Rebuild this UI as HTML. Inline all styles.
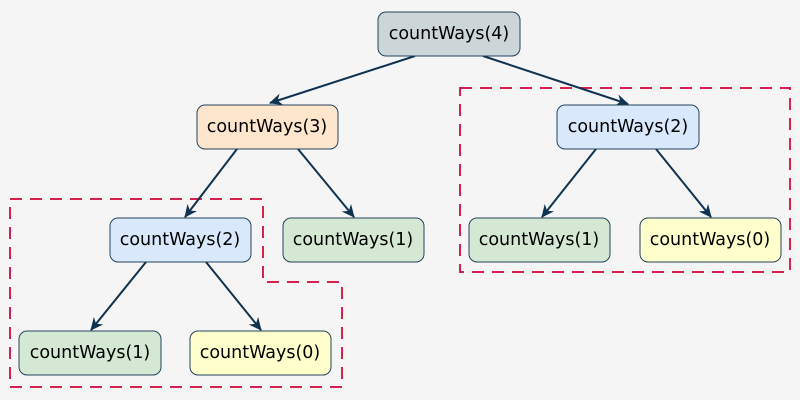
<!DOCTYPE html>
<html><head><meta charset="utf-8"><style>
html,body{margin:0;padding:0;background:#f5f5f5;}
svg{display:block}
text{font-family:"DejaVu Sans","Liberation Sans",sans-serif;font-size:17.5px;fill:#000;text-anchor:middle;dominant-baseline:central}
.n{stroke:#23445d;stroke-width:1}
.e{stroke:#0f3350;stroke-width:2;fill:none;marker-end:url(#a)}
.d{stroke:#d6204e;stroke-width:2;fill:none;stroke-dasharray:12 8}
</style></head><body>
<svg width="800" height="400" viewBox="0 0 800 400">
<defs><marker id="a" markerWidth="14" markerHeight="14" refX="12" refY="6" orient="auto" markerUnits="userSpaceOnUse"><path d="M0,0 L13,6 L0,12 L4,6 Z" fill="#0f3350"/></marker></defs>
<rect width="800" height="400" fill="#f5f5f5"/>
<path class="d" d="M460,88 H790 V272 H460 Z"/>
<path class="d" d="M10,199 H263 V282 H342 V387 H10 Z"/>
<line class="e" x1="415" y1="56" x2="270" y2="103"/>
<line class="e" x1="483" y1="56" x2="628" y2="104"/>
<line class="e" x1="237" y1="149" x2="185" y2="217"/>
<line class="e" x1="298" y1="149" x2="354" y2="217"/>
<line class="e" x1="596" y1="149" x2="542" y2="217"/>
<line class="e" x1="656" y1="149" x2="711" y2="217"/>
<line class="e" x1="146" y1="262" x2="91" y2="330"/>
<line class="e" x1="206" y1="262" x2="261" y2="330"/>
<rect class="n" x="378" y="12" width="142" height="44" rx="8" fill="#ccd5d7"/><text x="449" y="34">countWays(4)</text>
<rect class="n" x="197" y="105" width="141" height="44" rx="8" fill="#fde6cc"/><text x="267" y="127">countWays(3)</text>
<rect class="n" x="557" y="105" width="142" height="44" rx="8" fill="#dae8fc"/><text x="628" y="127">countWays(2)</text>
<rect class="n" x="110" y="218" width="141" height="44" rx="8" fill="#dae8fc"/><text x="180" y="240">countWays(2)</text>
<rect class="n" x="283" y="218" width="141" height="44" rx="8" fill="#d5e8d4"/><text x="353" y="240">countWays(1)</text>
<rect class="n" x="469" y="218" width="141" height="44" rx="8" fill="#d5e8d4"/><text x="539" y="240">countWays(1)</text>
<rect class="n" x="640" y="218" width="141" height="44" rx="8" fill="#ffffcc"/><text x="710" y="240">countWays(0)</text>
<rect class="n" x="19" y="331" width="142" height="44" rx="8" fill="#d5e8d4"/><text x="90" y="353">countWays(1)</text>
<rect class="n" x="190" y="331" width="141" height="44" rx="8" fill="#ffffcc"/><text x="260" y="353">countWays(0)</text>
</svg>
</body></html>
